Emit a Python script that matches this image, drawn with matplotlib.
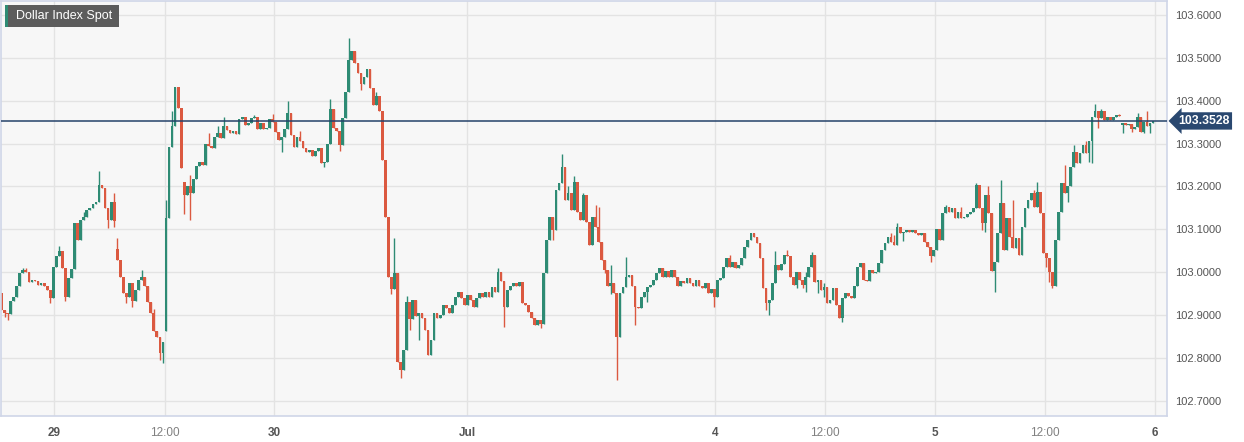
import matplotlib
matplotlib.use('Agg')
import matplotlib.pyplot as plt
import matplotlib.transforms as mtransforms
from matplotlib.patches import Rectangle

plt.rcParams['font.family'] = ['Liberation Sans', 'DejaVu Sans']

# 20 minute candles, Dollar Index Spot, 29 Jun - 6 Jul
closes = [
    102.912, 102.905, 102.902, 102.932, 102.943, 102.967, 102.998, 103.005, 103.000, 102.978,
    102.982, 102.980, 102.970, 102.975, 102.967, 102.959, 102.940, 103.013, 103.037, 103.050,
    103.010, 102.943, 102.986, 103.007, 103.114, 103.075, 103.122, 103.130, 103.145, 103.149,
    103.159, 103.165, 103.204, 103.196, 103.149, 103.122, 103.165, 103.120, 103.029, 102.990,
    102.951, 102.943, 102.974, 102.932, 102.959, 102.982, 102.990, 102.967, 102.930, 102.904,
    102.862, 102.850, 102.811, 102.838, 103.126, 103.293, 103.340, 103.433, 103.382, 103.242,
    103.180, 103.200, 103.185, 103.218, 103.248, 103.258, 103.250, 103.300, 103.295, 103.290,
    103.316, 103.324, 103.312, 103.340, 103.332, 103.324, 103.330, 103.322, 103.357, 103.361,
    103.343, 103.349, 103.359, 103.361, 103.333, 103.347, 103.333, 103.336, 103.357, 103.351,
    103.328, 103.308, 103.316, 103.333, 103.372, 103.320, 103.293, 103.316, 103.305, 103.289,
    103.280, 103.285, 103.270, 103.282, 103.290, 103.255, 103.258, 103.300, 103.380, 103.336,
    103.330, 103.297, 103.360, 103.421, 103.495, 103.517, 103.487, 103.464, 103.440, 103.456,
    103.473, 103.429, 103.390, 103.410, 103.375, 103.262, 103.130, 102.990, 102.960, 102.998,
    102.792, 102.772, 102.820, 102.931, 102.890, 102.935, 102.897, 102.904, 102.893, 102.866,
    102.807, 102.842, 102.904, 102.893, 102.900, 102.924, 102.916, 102.906, 102.924, 102.943,
    102.955, 102.939, 102.924, 102.947, 102.935, 102.920, 102.940, 102.951, 102.943, 102.953,
    102.943, 102.966, 102.955, 103.000, 102.980, 102.920, 102.959, 102.967, 102.974, 102.967,
    102.978, 102.928, 102.924, 102.908, 102.893, 102.877, 102.889, 102.880, 102.998, 103.075,
    103.130, 103.099, 103.192, 103.207, 103.246, 103.169, 103.184, 103.145, 103.211, 103.141,
    103.122, 103.180, 103.118, 103.064, 103.130, 103.106, 103.071, 103.029, 103.005, 102.967,
    102.975, 102.951, 102.850, 102.951, 102.965, 102.990, 102.994, 102.967, 102.920, 102.916,
    102.943, 102.955, 102.966, 102.970, 102.982, 102.998, 103.009, 102.990, 103.002, 102.990,
    103.005, 102.990, 102.967, 102.979, 102.974, 102.986, 102.974, 102.967, 102.982, 102.967,
    102.963, 102.974, 102.951, 102.960, 102.943, 102.982, 102.986, 103.013, 103.033, 103.013,
    103.025, 103.010, 103.017, 103.033, 103.060, 103.075, 103.091, 103.083, 103.068, 103.033,
    102.963, 102.928, 102.936, 102.975, 103.017, 103.005, 103.020, 103.040, 103.037, 102.990,
    102.970, 103.000, 102.982, 102.970, 102.990, 103.013, 103.040, 102.978, 102.982, 102.959,
    102.965, 102.928, 102.935, 102.963, 102.924, 102.893, 102.940, 102.951, 102.944, 102.940,
    102.967, 103.013, 103.021, 102.982, 102.979, 103.005, 102.998, 103.000, 103.021, 103.052,
    103.068, 103.083, 103.071, 103.064, 103.106, 103.091, 103.095, 103.099, 103.093, 103.099,
    103.091, 103.087, 103.091, 103.071, 103.060, 103.037, 103.052, 103.102, 103.075, 103.138,
    103.153, 103.141, 103.149, 103.126, 103.141, 103.126, 103.130, 103.137, 103.141, 103.149,
    103.204, 103.149, 103.114, 103.180, 103.138, 103.002, 103.025, 103.091, 103.161, 103.052,
    103.126, 103.083, 103.056, 103.079, 103.040, 103.106, 103.149, 103.169, 103.184, 103.153,
    103.188, 103.138, 103.044, 103.033, 103.000, 102.967, 103.075, 103.141, 103.207, 103.184,
    103.200, 103.246, 103.281, 103.254, 103.277, 103.297, 103.277, 103.305, 103.363, 103.375,
    103.359, 103.377, 103.355, 103.363, 103.354, 103.363, 103.367, 103.364, 103.348, 103.343,
    103.346, 103.334, 103.339, 103.363, 103.328, 103.351, 103.340, 103.347, 103.3528,
]

first_open = 102.951
# candles that did not open at the previous close
gap_opens = {38: 103.055, 54: 102.862, 60: 103.210, 368: 103.344}

# wick extremes that stand out from the bodies
wick_highs = {
    7: 103.011, 8: 103.011, 19: 103.061, 27: 103.141, 32: 103.235, 37: 103.184,
    38: 103.079, 46: 103.005, 50: 102.915, 54: 103.169, 56: 103.375, 62: 103.226,
    68: 103.325, 71: 103.340, 73: 103.361, 83: 103.366, 89: 103.368, 94: 103.400,
    98: 103.330, 108: 103.405, 114: 103.545, 123: 103.421, 129: 103.079, 133: 102.945,
    163: 103.009, 184: 103.276, 186: 103.200, 188: 103.224, 191: 103.185, 195: 103.157,
    196: 103.153, 200: 103.017, 205: 103.035, 239: 103.040, 254: 103.050, 258: 103.052,
    264: 103.000, 266: 103.048, 270: 102.975, 274: 102.960, 283: 103.021, 292: 103.091,
    293: 103.087, 294: 103.114, 310: 103.157, 315: 103.153, 320: 103.207, 324: 103.200,
    328: 103.215, 332: 103.169, 339: 103.192, 340: 103.211, 349: 103.250, 352: 103.297,
    356: 103.305, 359: 103.392, 361: 103.380, 367: 103.368, 373: 103.371, 376: 103.375,
}
wick_lows = {
    1: 102.895, 2: 102.889, 16: 102.928, 21: 102.934, 35: 103.103, 37: 103.105,
    41: 102.928, 43: 102.920, 52: 102.796, 53: 102.788, 60: 103.137, 62: 103.122,
    92: 103.280, 106: 103.245, 111: 103.282, 118: 103.425, 128: 102.950, 131: 102.753,
    134: 102.866, 137: 102.842, 165: 102.873, 177: 102.870, 181: 103.075, 198: 102.998,
    200: 102.950, 202: 102.750, 208: 102.877, 212: 102.930, 234: 102.920, 251: 102.913,
    252: 102.900, 261: 102.963, 263: 102.963, 264: 102.955, 268: 102.951, 270: 102.943,
    276: 102.885, 296: 103.072, 305: 103.025, 322: 103.099, 323: 103.095, 326: 102.955,
    343: 103.013, 344: 102.978, 345: 102.963, 350: 103.165, 357: 103.258, 358: 103.254,
    360: 103.336, 368: 103.325, 371: 103.328, 375: 103.325, 377: 103.324,
}

last_price = 103.3528
y_ticks = [102.7, 102.8, 102.9, 103.0, 103.1, 103.2, 103.3, 103.4, 103.5, 103.6]
tick_pos = [17.2, 53.7, 89.5, 152.8, 234.2, 270.4, 306.5, 342.6, 378.7]
tick_labels = ['29', '12:00', '30', 'Jul', '4', '12:00', '5', '12:00', '6']

up_col = '#2e8b74'
down_col = '#db5940'

opens = [first_open] + closes[:-1]
for k, v in gap_opens.items():
    opens[k] = v

idx = list(range(len(closes)))
highs = [wick_highs.get(i, max(o, c)) for i, o, c in zip(idx, opens, closes)]
lows = [wick_lows.get(i, min(o, c)) for i, o, c in zip(idx, opens, closes)]
cols = [up_col if c >= o else down_col for o, c in zip(opens, closes)]
body_lo = [min(o, c) for o, c in zip(opens, closes)]
body_h = [max(abs(c - o), 0.003) for o, c in zip(opens, closes)]

fig = plt.figure(figsize=(12.44, 4.42), dpi=100)
ax = fig.add_axes([1 / 1244, 26 / 442, 1166 / 1244, 415 / 442])
ax.set_facecolor('#f7f7f7')
for s in ax.spines.values():
    s.set_color('#cfd6e8')
    s.set_linewidth(1.2)

ax.vlines(idx, lows, highs, colors=cols, linewidth=1.0, zorder=2)
ax.bar(idx, body_h, bottom=body_lo, width=0.9, color=cols, linewidth=0, zorder=2)

ax.axhline(last_price, color='#24426a', linewidth=1.1, zorder=3)

ax.set_xlim(-0.16, 382.6)
ax.set_ylim(102.665, 103.6324)
ax.set_yticks(y_ticks)
ax.set_yticklabels(['%.4f' % v for v in y_ticks])
ax.yaxis.tick_right()
ax.tick_params(axis='y', length=0, pad=6, labelsize=8, labelcolor='#555555')
ax.set_xticks(tick_pos)
ax.set_xticklabels(tick_labels)
ax.tick_params(axis='x', length=0, pad=8, labelsize=8.5)
for lab in ax.get_xticklabels():
    if ':' in lab.get_text():
        lab.set_color('#808080')
    else:
        lab.set_color('#555555')
        lab.set_fontweight('bold')

ax.set_axisbelow(True)
ax.grid(color='#e3e3e3', linewidth=1)

# last price tag
tr = mtransforms.blended_transform_factory(ax.transAxes, ax.transData)
ax.text(1 + 11 / 1166, last_price, '%.4f' % last_price, transform=tr, color='white',
        fontweight='bold', fontsize=8.8, ha='left', va='center', clip_on=False,
        bbox=dict(boxstyle='larrow,pad=0.22', fc='#2a4870', ec='none'))

# title box
fig.add_artist(Rectangle((5 / 1244, 1 - 27 / 442), 114 / 1244, 22 / 442,
                         transform=fig.transFigure, fc='#5c5c5c', ec='none'))
fig.add_artist(Rectangle((5 / 1244, 1 - 27 / 442), 3 / 1244, 22 / 442,
                         transform=fig.transFigure, fc=up_col, ec='none'))
fig.text(64 / 1244, 1 - 16 / 442, 'Dollar Index Spot', color='white', fontsize=9,
         ha='center', va='center')

fig.savefig('out.png', dpi=100)
